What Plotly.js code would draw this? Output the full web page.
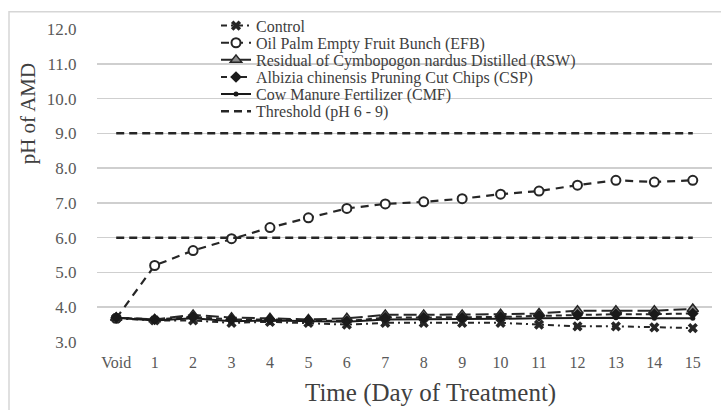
<!DOCTYPE html>
<html>
<head>
<meta charset="utf-8">
<script src="https://cdn.plot.ly/plotly-3.0.1.min.js"></script>
<style>html,body{margin:0;padding:0;background:#fff;}#chart{width:721px;height:410px;}</style>
</head>
<body>
<div id="chart"></div>
<script>
const categories = ["Void","1","2","3","4","5","6","7","8","9","10","11","12","13","14","15"];
const controlPH = [3.68,3.62,3.62,3.55,3.58,3.55,3.50,3.55,3.55,3.55,3.55,3.50,3.45,3.45,3.42,3.40];
const efbPH     = [3.68,5.20,5.63,5.97,6.29,6.57,6.84,6.97,7.03,7.12,7.25,7.34,7.51,7.65,7.60,7.65];
const rswPH     = [3.70,3.65,3.78,3.70,3.68,3.65,3.68,3.78,3.78,3.78,3.80,3.82,3.90,3.90,3.90,3.95];
const cspPH     = [3.70,3.65,3.72,3.65,3.65,3.62,3.60,3.70,3.70,3.70,3.72,3.75,3.78,3.80,3.80,3.82];
const cmfPH     = [3.70,3.62,3.68,3.60,3.62,3.60,3.58,3.65,3.65,3.65,3.67,3.68,3.70,3.70,3.68,3.68];
const thresholdLow = 6;
const thresholdHigh = 9;
const yTicks = [3,4,5,6,7,8,9,10,11,12];

const serif = 'Liberation Serif, Times New Roman, serif';
const dark = '#262626';
const traces = [
  {name:'Control', legend:'legend', x:categories, y:controlPH, mode:'lines+markers',
   line:{color:dark, width:2, dash:'6px,4px,2px,4px'},
   marker:{symbol:'x', size:9, color:dark}},
  {name:'Oil Palm Empty Fruit Bunch (EFB)', legend:'legend2', x:categories, y:efbPH, mode:'lines+markers',
   line:{color:dark, width:2.2, dash:'8px,6px'},
   marker:{symbol:'circle', size:9, color:'#ffffff', line:{color:dark, width:2}}},
  {name:'Residual of Cymbopogon nardus Distilled (RSW)', legend:'legend3', x:categories, y:rswPH, mode:'lines+markers',
   line:{color:dark, width:2, dash:'13px,5px'},
   marker:{symbol:'triangle-up', size:10, color:'#8c8c8c', line:{color:dark, width:1.5}}},
  {name:'Albizia chinensis Pruning Cut Chips (CSP)', legend:'legend4', x:categories, y:cspPH, mode:'lines+markers',
   line:{color:dark, width:2, dash:'6px,4px'},
   marker:{symbol:'diamond', size:9, color:'#1a1a1a'}},
  {name:'Cow Manure Fertilizer (CMF)', legend:'legend5', x:categories, y:cmfPH, mode:'lines+markers',
   line:{color:'#1a1a1a', width:2},
   marker:{symbol:'circle', size:5, color:'#1a1a1a'}},
  {name:'Threshold (pH 6 - 9)', legend:'legend6', x:categories, y:categories.map(()=>thresholdLow), mode:'lines',
   legendgroup:'thr', line:{color:dark, width:2.5, dash:'8px,5px'}},
  {name:'Threshold (pH 6 - 9)', legend:'legend6', x:categories, y:categories.map(()=>thresholdHigh), mode:'lines',
   legendgroup:'thr', showlegend:false, line:{color:dark, width:2.5, dash:'8px,5px'}}
];

const plotTop = 27.3, plotH = 314.4, plotL = 97, plotW = 615;
function legendAt(rowY) {
  return {x:(216-plotL)/plotW, xanchor:'left', y:1+(plotTop-rowY)/plotH, yanchor:'middle',
          bgcolor:'rgba(0,0,0,0)', borderwidth:0, font:{family:serif, size:16, color:'#404040'}};
}

const layout = {
  width:721, height:410,
  margin:{l:97, r:9, t:27, b:68},
  paper_bgcolor:'#ffffff', plot_bgcolor:'#ffffff',
  font:{family:serif, color:'#595959'},
  showlegend:true,
  legend:legendAt(24),
  legend2:legendAt(41.2),
  legend3:legendAt(58.4),
  legend4:legendAt(75.6),
  legend5:legendAt(92.8),
  legend6:legendAt(110),
  xaxis:{type:'category', range:[-0.5,15.5], showgrid:false, zeroline:false, showline:false,
         ticks:'outside', ticklen:6, tickcolor:'rgba(0,0,0,0)',
         tickfont:{family:serif, size:16, color:'#595959'}, fixedrange:true},
  yaxis:{range:[3,12], tickvals:yTicks, tickformat:'.1f', showgrid:true, gridcolor:'#cfcfcf', gridwidth:1.5,
         zeroline:false, showline:false, ticks:'outside', ticklen:16, tickcolor:'rgba(0,0,0,0)',
         tickfont:{family:serif, size:17, color:'#595959'}, fixedrange:true},
  annotations:[
    {text:'Time (Day of Treatment)', xref:'paper', yref:'paper', x:(430-plotL)/plotW, y:-(393-341.7)/plotH,
     xanchor:'center', yanchor:'middle', showarrow:false, font:{family:serif, size:25, color:'#404040'}},
    {text:'pH of AMD', xref:'paper', yref:'paper', x:-(plotL-28)/plotW, y:(341.7-112)/plotH, textangle:-90,
     xanchor:'center', yanchor:'middle', showarrow:false, font:{family:serif, size:21, color:'#404040'}}
  ],
  shapes:[
    {type:'rect', xref:'paper', yref:'paper', x0:-(plotL-9)/plotW, x1:1.1, y0:-0.3, y1:1+(plotTop-10)/plotH,
     line:{color:'#d6d6d6', width:1.5}, fillcolor:'rgba(0,0,0,0)', layer:'below'}
  ]
};

Plotly.newPlot('chart', traces, layout, {displayModeBar:false, staticPlot:true});
</script>
</body>
</html>
